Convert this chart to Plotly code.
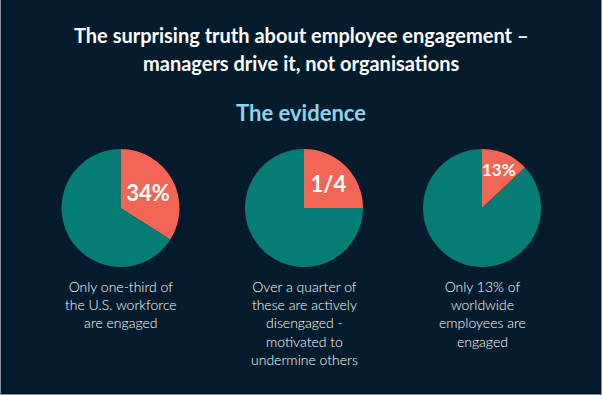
import math
import plotly.graph_objects as go

# Data
labels = ["Highlighted share", "Rest"]
pie_values = [[34, 66], [25, 75], [13, 87]]
pie_texts = ["34%", "1/4", "13%"]
captions = [
    "Only one-third of<br>the U.S. workforce<br>are engaged",
    "Over a quarter of<br>these are actively<br>disengaged -<br>motivated to<br>undermine others",
    "Only 13% of<br>worldwide<br>employees are<br>engaged",
]
title_lines = ["The surprising truth about employee engagement –",
               "managers drive it, not organisations"]
subtitle_text = "The evidence"

W, H = 602, 395
BG = "#041b2d"
TEAL = "#057d74"
CORAL = "#f26657"

centers_x = [120.5, 304, 482]
center_y = 208
radius = 59
text_sizes = [22, 22, 17]
# pies whose label is drawn as an annotation (slice too small for plotly's fitting)
annot_label = [False, False, True]

fig = go.Figure()
annotations = []
for i, vals in enumerate(pie_values):
    cx = centers_x[i]
    fig.add_trace(go.Pie(
        labels=labels,
        values=vals,
        text=["" if annot_label[i] else pie_texts[i], ""],
        textinfo="text",
        textposition="inside",
        insidetextorientation="horizontal",
        textfont=dict(family="Lato", size=text_sizes[i], color="white", weight="bold"),
        sort=False,
        direction="clockwise",
        rotation=0,
        marker=dict(colors=[CORAL, TEAL], line=dict(width=0)),
        domain=dict(x=[(cx - radius) / W, (cx + radius) / W],
                    y=[1 - (center_y + radius) / H, 1 - (center_y - radius) / H]),
        hoverinfo="skip",
        showlegend=False,
    ))
    if annot_label[i]:
        share = vals[0] / sum(vals)
        mid = 2 * math.pi * share / 2
        rr = 0.72 * radius
        annotations.append(dict(
            text=pie_texts[i], x=(cx + rr * math.sin(mid)) / W,
            y=1 - (center_y - rr * math.cos(mid)) / H,
            xref="paper", yref="paper", showarrow=False,
            xanchor="center", yanchor="middle",
            font=dict(family="Lato", size=text_sizes[i], color="white", weight="bold")))

for j, line in enumerate(title_lines):
    annotations.append(dict(
        text=line, x=0.5, y=1 - (35 + 28 * j) / H, xref="paper", yref="paper",
        showarrow=False, xanchor="center", yanchor="middle",
        font=dict(family="Lato", size=20, color="white", weight="bold")))
annotations.append(dict(
    text=subtitle_text, x=0.5, y=1 - 113 / H, xref="paper", yref="paper",
    showarrow=False, xanchor="center", yanchor="middle",
    font=dict(family="Lato", size=22, color="#8fd3f0", weight="bold")))
for i, cap in enumerate(captions):
    annotations.append(dict(
        text=cap, x=centers_x[i] / W, y=1 - 276 / H, xref="paper", yref="paper",
        showarrow=False, xanchor="center", yanchor="top", align="center",
        font=dict(family="Lato", size=14, color="white", weight=300)))

fig.update_layout(
    width=W, height=H,
    margin=dict(l=0, r=0, t=0, b=0),
    paper_bgcolor=BG, plot_bgcolor=BG,
    annotations=annotations,
    shapes=[
        dict(type="line", xref="paper", yref="paper", x0=0.5 / W, x1=0.5 / W, y0=0, y1=1,
             line=dict(color="#8a9099", width=1)),
        dict(type="line", xref="paper", yref="paper", x0=1 - 0.5 / W, x1=1 - 0.5 / W, y0=0, y1=1,
             line=dict(color="#8a9099", width=1)),
        dict(type="line", xref="paper", yref="paper", x0=0, x1=1, y0=0.5 / H, y1=0.5 / H,
             line=dict(color="#8a9099", width=1)),
    ],
)

fig.write_html("out.html", config={"displayModeBar": False},
               post_script="document.body.style.margin='0';document.body.style.padding='0';")
